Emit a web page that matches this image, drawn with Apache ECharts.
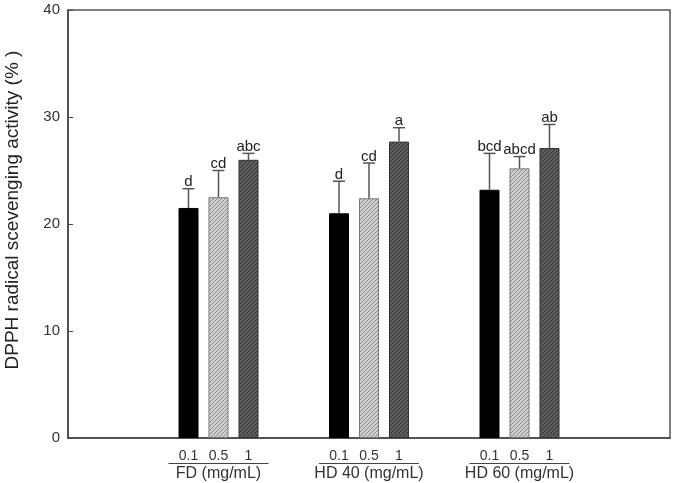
<!DOCTYPE html>
<html>
<head>
<meta charset="utf-8">
<script src="https://cdn.jsdelivr.net/npm/echarts@6/dist/echarts.min.js"></script>
<style>
  html, body { margin: 0; padding: 0; background: #fff; }
  #chart { width: 682px; height: 483px; }
</style>
</head>
<body>
<div id="chart"></div>
<script>
// groups on the x axis (empty slots at both ends keep the box wide)
const groups = ['FD (mg/mL)', 'HD 40 (mg/mL)', 'HD 60 (mg/mL)']
const concentrations = ['0.1', '0.5', '1']

// mean values per concentration, one entry per group
const mean01 = [21.5, 21.0, 23.2]
const mean05 = [22.5, 22.4, 25.2]
const mean1 = [26.0, 27.7, 27.1]

// standard deviations (upper error bars)
const err01 = [1.8, 3.0, 3.4]
const err05 = [2.5, 3.3, 1.1]
const err1 = [0.6, 1.3, 2.2]

// significance letters
const sig01 = ['d', 'd', 'bcd']
const sig05 = ['cd', 'cd', 'abcd']
const sig1 = ['abc', 'a', 'ab']

const yTicks = [0, 10, 20, 30, 40]

const font = 'Liberation Sans, Arial, sans-serif'

function hatch(bg, fg) {
  const c = document.createElement('canvas')
  c.width = 4
  c.height = 4
  const ctx = c.getContext('2d')
  ctx.fillStyle = bg
  ctx.fillRect(0, 0, 4, 4)
  ctx.strokeStyle = fg
  ctx.lineWidth = 1
  ctx.beginPath()
  ctx.moveTo(0, 4); ctx.lineTo(4, 0)
  ctx.moveTo(-1, 1); ctx.lineTo(1, -1)
  ctx.moveTo(3, 5); ctx.lineTo(5, 3)
  ctx.stroke()
  return { image: c, repeat: 'repeat' }
}

const styles = [
  { color: '#000', borderColor: '#000' },
  { color: hatch('#cfcfcf', '#8c8c8c'), borderColor: '#777' },
  { color: hatch('#5e5e5e', '#333'), borderColor: '#333' }
]

const means = [mean01, mean05, mean1]
const errs = [err01, err05, err1]
const sigs = [sig01, sig05, sig1]
const offsets = [-30, 0, 30]

const categories = [''].concat(groups, [''])

const barSeries = means.map(function (m, k) {
  return {
    name: concentrations[k],
    type: 'bar',
    barWidth: 20,
    barGap: '50%',
    itemStyle: Object.assign({ borderWidth: 1 }, styles[k]),
    data: ['-'].concat(m, ['-']),
    z: 2
  }
})

const errSeries = means.map(function (m, k) {
  return {
    type: 'custom',
    z: 5,
    clip: false,
    renderItem: function (params, api) {
      const i = params.dataIndex
      const base = api.coord([api.value(0), api.value(1)])
      const top = api.coord([api.value(0), api.value(1) + api.value(2)])
      const x = base[0] + offsets[k]
      const st = { stroke: '#555', lineWidth: 1.5 }
      return {
        type: 'group',
        children: [
          { type: 'line', shape: { x1: x, y1: base[1], x2: x, y2: top[1] }, style: st },
          { type: 'line', shape: { x1: x - 6, y1: top[1], x2: x + 6, y2: top[1] }, style: st },
          {
            type: 'text',
            style: {
              text: sigs[k][i],
              x: x,
              y: top[1] + 1,
              align: 'center',
              verticalAlign: 'bottom',
              font: '15px ' + font,
              fill: '#222'
            }
          }
        ]
      }
    },
    data: m.map(function (v, i) { return [i + 1, v, errs[k][i]] })
  }
})

const chart = echarts.init(document.getElementById('chart'))
chart.setOption({
  animation: false,
  grid: {
    left: 68, right: 12, top: 10, bottom: 45,
    outerBoundsMode: 'none',
    containLabel: false,
    show: true, borderColor: '#555', borderWidth: 1.5
  },
  xAxis: {
    type: 'category',
    data: categories,
    boundaryGap: false,
    axisLine: { lineStyle: { color: '#444', width: 1.5 } },
    axisTick: { show: false },
    axisLabel: {
      interval: 0,
      margin: 12,
      formatter: function (v) {
        if (!v) return ''
        const row = concentrations.map(function (c) { return '{c|' + c + '}' }).join('')
        return row + '\n{l| }\n{g|' + v + '}'
      },
      rich: {
        c: { width: 30, align: 'center', fontSize: 14, lineHeight: 13, fontFamily: font, color: '#333' },
        l: { width: 100, height: 1, lineHeight: 1, backgroundColor: '#444', fontSize: 1 },
        g: { fontSize: 16, lineHeight: 19, fontFamily: font, color: '#333' }
      }
    }
  },
  yAxis: {
    type: 'value',
    min: yTicks[0],
    max: yTicks[yTicks.length - 1],
    interval: 10,
    name: 'DPPH radical scevenging activity (% )',
    nameLocation: 'middle',
    nameGap: 46,
    nameTextStyle: { fontSize: 19, fontFamily: font, color: '#222', padding: [0, 0, 0, 28] },
    splitLine: { show: false },
    axisLine: { show: true, lineStyle: { color: '#444', width: 1.5 } },
    axisTick: { show: true, inside: true, length: 5, lineStyle: { color: '#444' } },
    axisLabel: { fontSize: 15, fontFamily: font, color: '#333', margin: 8 }
  },
  series: barSeries.concat(errSeries)
})
</script>
</body>
</html>
